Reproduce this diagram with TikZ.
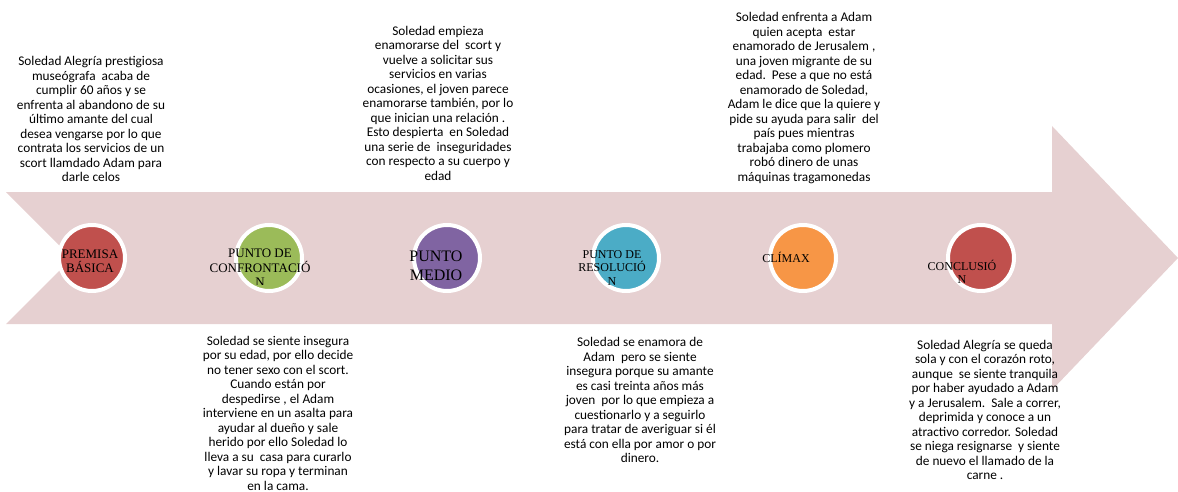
\documentclass[tikz,border=0pt]{standalone}
\usepackage{fontspec}
\setmainfont{Carlito}
\newfontfamily\labelfont{Liberation Serif}
\definecolor{arrowpink}{RGB}{230,208,209}
\definecolor{stagered}{RGB}{192,80,77}
\definecolor{stagegreen}{RGB}{155,187,89}
\definecolor{stagepurple}{RGB}{128,100,162}
\definecolor{stageblue}{RGB}{75,172,198}
\definecolor{stageorange}{RGB}{247,150,70}
\begin{document}
\begin{tikzpicture}[x=1pt,y=-1pt,
  stage/.style={circle,draw=white,line width=4pt,minimum size=66pt,inner sep=0pt},
  stagelabel/.style={align=center,inner sep=0pt,text=black},
  story/.style={align=center,inner sep=0pt,text=black,font=\fontsize{13.3}{14.5}\selectfont}]
\useasboundingbox (0,0) rectangle (1178,492);

% timeline arrow
\fill[arrowpink] (6,192) -- (72,258) -- (6,324) -- (1052,324) -- (1052,390)
  -- (1178,258) -- (1052,126) -- (1052,192) -- cycle;

% stage circles
\node[stage,fill=stagered]    (premisa)  at (92,258)  {};
\node[stage,fill=stagegreen]  (confront) at (269,258) {};
\node[stage,fill=stagepurple] (medio)    at (447,258) {};
\node[stage,fill=stageblue]   (resol)    at (626,258) {};
\node[stage,fill=stageorange] (climax)   at (803,258) {};
\node[stage,fill=stagered]    (concl)    at (981,258) {};

% stage labels
\node[stagelabel,font=\labelfont\fontsize{13}{14}\selectfont] (lpremisa) at (90,261) {PREMISA\\BÁSICA};
\begin{scope}
  \clip (190,238) rectangle (340,284);
  \node[stagelabel,font=\labelfont\fontsize{13}{14.5}\selectfont] (lconfront) at (260,268) {PUNTO DE\\CONFRONTACIÓ\\N};
\end{scope}
\node[stagelabel,font=\labelfont\fontsize{16}{19}\selectfont] (lmedio) at (436,266) {PUNTO\\MEDIO};
\node[stagelabel,font=\labelfont\fontsize{12}{13.5}\selectfont] (lresol) at (612,268) {PUNTO DE\\RESOLUCIÓ\\N};
\node[stagelabel,font=\labelfont\fontsize{12}{13}\selectfont] (lclimax) at (786,257) {CLÍMAX};
\node[stagelabel,font=\labelfont\fontsize{12}{12.5}\selectfont] (lconcl) at (962,272) {CONCLUSIÓ\\N};

% story text above the arrow
\node[story] (t1) at (91,119) {Soledad Alegría prestigiosa\\museógrafa\ \ acaba de\\cumplir 60 años y se\\enfrenta al abandono de su\\último amante del cual\\desea vengarse por lo que\\contrata los servicios de un\\scort llamdado Adam para\\darle celos};
\node[story] (t3) at (438,103) {Soledad empieza\\enamorarse del\ \ scort y\\vuelve a solicitar sus\\servicios en varias\\ocasiones, el joven parece\\enamorarse también, por lo\\que inician una relación .\\Esto despierta\ \ en Soledad\\una serie de\ \ inseguridades\\con respecto a su cuerpo y\\edad};
\node[story] (t5) at (804,98) {Soledad enfrenta a Adam\\quien acepta\ \ estar\\enamorado de Jerusalem ,\\una joven migrante de su\\edad.\ \ Pese a que no está\\enamorado de Soledad,\\Adam le dice que la quiere y\\pide su ayuda para salir\ \ del\\país pues mientras\\trabajaba como plomero\\robó dinero de unas\\máquinas tragamonedas};

% story text below the arrow
\node[story] (t2) at (278,413) {Soledad se siente insegura\\por su edad, por ello decide\\no tener sexo con el scort.\\Cuando están por\\despedirse , el Adam\\interviene en un asalta para\\ayudar al dueño y sale\\herido por ello Soledad lo\\lleva a su\ \ casa para curarlo\\y lavar su ropa y terminan\\en la cama.};
\node[story] (t4) at (640,400) {Soledad se enamora de\\Adam\ \ pero se siente\\insegura porque su amante\\es casi treinta años más\\joven\ \ por lo que empieza a\\cuestionarlo y a seguirlo\\para tratar de averiguar si él\\está con ella por amor o por\\dinero.};
\node[story] (t6) at (985,410) {Soledad Alegría se queda\\sola y con el corazón roto,\\aunque\ \ se siente tranquila\\por haber ayudado a Adam\\y a Jerusalem.\ \ Sale a correr,\\deprimida y conoce a un\\atractivo corredor. Soledad\\se niega resignarse\ \ y siente\\de nuevo el llamado de la\\carne .};
\end{tikzpicture}
\end{document}
